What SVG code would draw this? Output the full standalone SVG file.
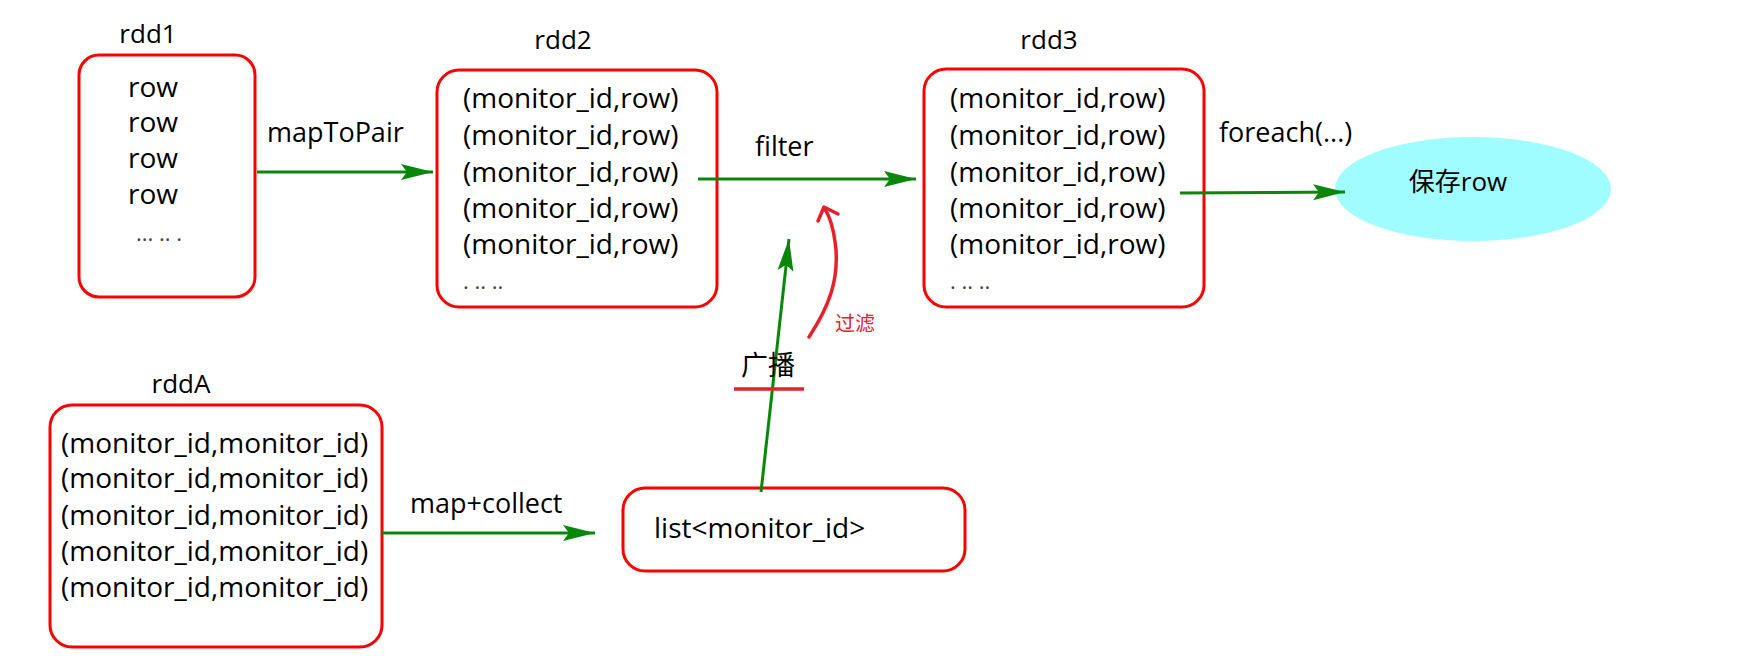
<svg xmlns="http://www.w3.org/2000/svg" width="1751" height="668" viewBox="0 0 1751 668">
<style>
text{font-family:"Open Sans","Noto Sans CJK SC",sans-serif;fill:#000}
.box{fill:#fff;stroke:#ff0000;stroke-width:3}
.t{font-size:28px}
.title{font-size:26px;text-anchor:middle}
.lbl{font-size:27px}
.dots{font-size:22px;fill:#444}
.edge{stroke:#0a870a;stroke-width:3;fill:none;marker-end:url(#ah)}
</style>
<defs>
<marker id="ah" markerUnits="userSpaceOnUse" markerWidth="34" markerHeight="18" refX="32" refY="8" orient="auto">
<path d="M0,0 L32,8 L0,16 L6,8 Z" fill="#0a870a"/>
</marker>
</defs>
<rect width="1751" height="668" fill="#fff"/>
<g id="rdd1">
<text class="title" x="148" y="43">rdd1</text>
<rect class="box" x="79" y="55" width="176" height="242" rx="20"/>
<text class="t" x="128" y="97">row</text>
<text class="t" x="128" y="132">row</text>
<text class="t" x="128" y="168">row</text>
<text class="t" x="128" y="204">row</text>
<text class="dots" x="136" y="241">... .. .</text>
</g>
<g id="rdd2">
<text class="title" x="563" y="49">rdd2</text>
<rect class="box" x="437" y="70" width="280" height="237" rx="22"/>
<text class="t" x="463" y="108">(monitor_id,row)</text>
<text class="t" x="463" y="145">(monitor_id,row)</text>
<text class="t" x="463" y="182">(monitor_id,row)</text>
<text class="t" x="463" y="218">(monitor_id,row)</text>
<text class="t" x="463" y="254">(monitor_id,row)</text>
<text class="dots" x="463" y="289">. .. ..</text>
</g>
<g id="rdd3">
<text class="title" x="1049" y="49">rdd3</text>
<rect class="box" x="924" y="69" width="280" height="238" rx="22"/>
<text class="t" x="950" y="108">(monitor_id,row)</text>
<text class="t" x="950" y="145">(monitor_id,row)</text>
<text class="t" x="950" y="182">(monitor_id,row)</text>
<text class="t" x="950" y="218">(monitor_id,row)</text>
<text class="t" x="950" y="254">(monitor_id,row)</text>
<text class="dots" x="950" y="289">. .. ..</text>
</g>
<g id="save">
<ellipse cx="1473" cy="189" rx="138" ry="52" fill="#a0fdff"/>
<text class="t" x="1458" y="191" text-anchor="middle" style="font-size:26px">保存row</text>
</g>
<g id="rddA">
<text class="title" x="181" y="393">rddA</text>
<rect class="box" x="50" y="405" width="332" height="242" rx="22"/>
<text class="t" x="61" y="453">(monitor_id,monitor_id)</text>
<text class="t" x="61" y="488">(monitor_id,monitor_id)</text>
<text class="t" x="61" y="525">(monitor_id,monitor_id)</text>
<text class="t" x="61" y="561">(monitor_id,monitor_id)</text>
<text class="t" x="61" y="597">(monitor_id,monitor_id)</text>
</g>
<g id="list">
<rect class="box" x="623" y="488" width="342" height="83" rx="22"/>
<text class="t" x="654" y="538">list&lt;monitor_id&gt;</text>
</g>
<g id="connectors">
<line class="edge" x1="257" y1="172" x2="433" y2="172"/>
<text class="lbl" x="267" y="142">mapToPair</text>
<line class="edge" x1="698" y1="179" x2="916" y2="179"/>
<text class="lbl" x="755" y="156">filter</text>
<line class="edge" x1="1180" y1="193" x2="1345" y2="192"/>
<text class="lbl" x="1219" y="142">foreach(...)</text>
<line class="edge" x1="382" y1="533" x2="595" y2="533"/>
<text class="lbl" x="410" y="513">map+collect</text>
<line class="edge" x1="761" y1="492" x2="789" y2="239"/>
<text x="768" y="375" style="font-size:27px" text-anchor="middle">广播</text>
<line x1="734" y1="389" x2="804" y2="389" stroke="#e8202a" stroke-width="3.5"/>
<path d="M809,337 C830,305 838,280 836,250 C834,230 830,216 824,208" fill="none" stroke="#e8202a" stroke-width="3.5" stroke-linecap="round"/>
<polyline points="818,221 824,207 838,214" fill="none" stroke="#e8202a" stroke-width="3.5" stroke-linecap="round" stroke-linejoin="round"/>
<text x="835" y="331" style="font-size:20px;fill:#e8202a">过滤</text>
</g>
</svg>
